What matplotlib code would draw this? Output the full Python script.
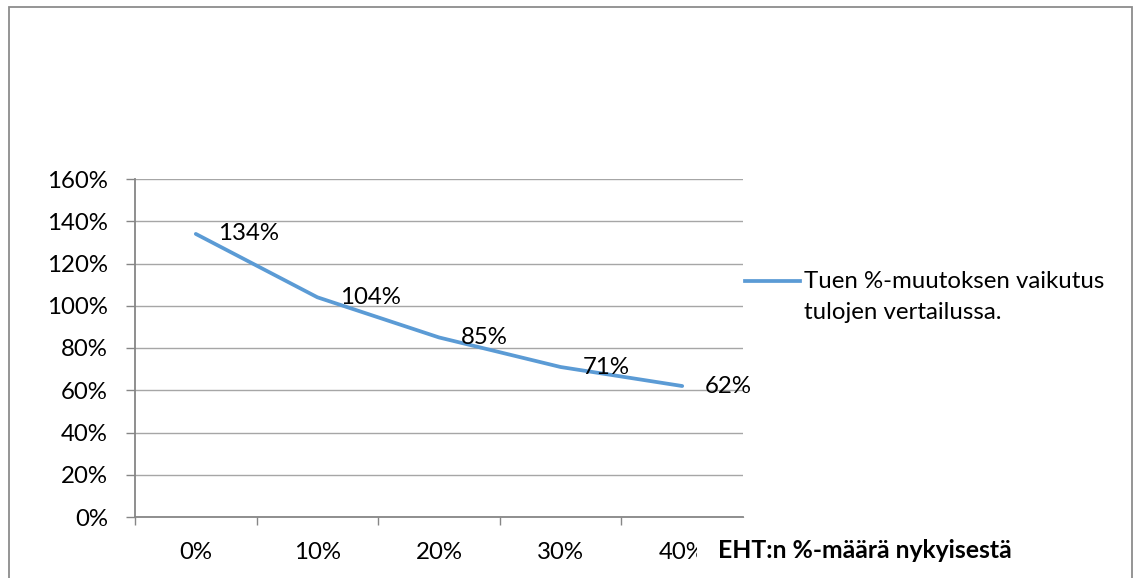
import numpy as np
import matplotlib
matplotlib.use("Agg")
import matplotlib.pyplot as plt
from matplotlib.lines import Line2D
from matplotlib.patches import Rectangle

# Data
categories = ["0%", "10%", "20%", "30%", "40%"]
values = [134, 104, 85, 71, 62]
y_ticks = [0, 20, 40, 60, 80, 100, 120, 140, 160]
series_name = ["Tuen %-muutoksen vaikutus", "tulojen vertailussa."]
x_title = "EHT:n %-määrä nykyisestä"

W, H = 1134, 578
DPI = 100
plt.rcParams["font.family"] = ["Lato", "DejaVu Sans"]
FS = 17.3
LINE_COLOR = "#5b9bd5"
AXIS_COLOR = "#868686"
GRID_COLOR = "#a6a6a6"


def fx(px):
    return px / W


def fy(py):
    return 1 - py / H


fig = plt.figure(figsize=(W / DPI, H / DPI), dpi=DPI, facecolor="white")

# outer chart frame
fig.add_artist(Rectangle((fx(9), -0.1), fx(1132) - fx(9), fy(7) + 0.1,
                         transform=fig.transFigure, fill=False,
                         ec="#8c8c8c", lw=1.3))

left, right, top, bottom = 135, 743, 179, 517
ax = fig.add_axes([fx(left), fy(bottom), fx(right) - fx(left), fy(top) - fy(bottom)])

x = np.arange(len(categories))
ax.plot(x, np.array(values) / 100, color=LINE_COLOR, lw=2.7,
        solid_capstyle="round", zorder=3)

for xi, v in zip(x, values):
    ax.annotate(f"{v}%", (xi, v / 100), xytext=(16, 0), textcoords="offset points",
                ha="left", va="center", fontsize=FS, color="black", zorder=4)

ax.set_xlim(-0.5, len(categories) - 0.5)
ax.set_ylim(0, 1.6)

ax.set_yticks(np.array(y_ticks) / 100)
ax.set_yticklabels([f"{t}%" for t in y_ticks], fontsize=FS)
ax.tick_params(axis="y", length=6.5, width=1, color=AXIS_COLOR, pad=13,
               labelcolor="black")

ax.set_xticks(np.arange(-0.5, len(categories), 1.0))
ax.set_xticklabels([])
ax.tick_params(axis="x", which="major", length=5.8, width=1, color=AXIS_COLOR)
ax.set_xticks(x, categories, minor=True)
ax.tick_params(axis="x", which="minor", length=0, pad=18, labelsize=FS,
               labelcolor="black")

ax.yaxis.grid(True, color=GRID_COLOR, lw=1)
ax.set_axisbelow(True)
for s in ("top", "right"):
    ax.spines[s].set_visible(False)
for s in ("left", "bottom"):
    ax.spines[s].set_color(AXIS_COLOR)
    ax.spines[s].set_linewidth(1.3)

# legend
fig.add_artist(Line2D([fx(745), fx(800)], [fy(281), fy(281)],
                      color=LINE_COLOR, lw=2.7, transform=fig.transFigure))
fig.text(fx(804), fy(281), series_name[0], ha="left", va="center", fontsize=FS)
fig.text(fx(804), fy(312), series_name[1], ha="left", va="center", fontsize=FS)

# axis title
fig.text(fx(718), fy(551), x_title, ha="left", va="center", fontsize=17.8,
         fontweight="bold",
         bbox=dict(boxstyle="square,pad=0.85", fc="white", ec="none"))

fig.savefig("out.png", dpi=DPI, facecolor="white")
